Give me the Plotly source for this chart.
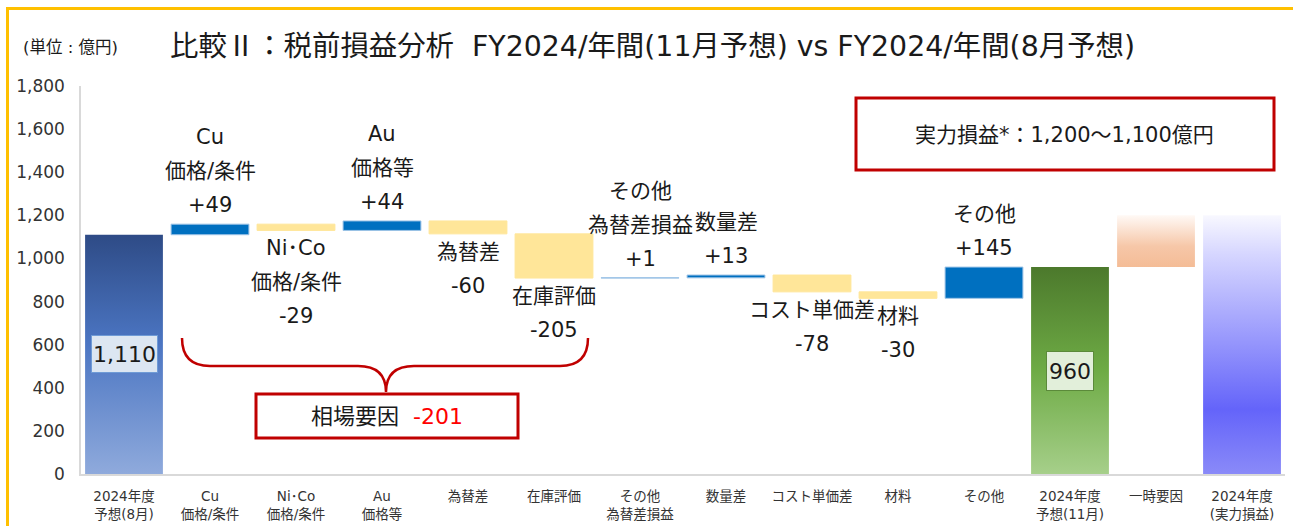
import plotly.graph_objects as go

# ---------------- data ----------------
categories = ["2024年度<br>予想(8月)", "Cu<br>価格/条件", "Ni･Co<br>価格/条件", "Au<br>価格等",
              "為替差", "在庫評価", "その他<br>為替差損益", "数量差", "コスト単価差", "材料",
              "その他", "2024年度<br>予想(11月)", "一時要因", "2024年度<br>(実力損益)"]
start_total = 1110          # 2024年度 予想(8月)
deltas = [49, -29, 44, -60, -205, 1, 13, -78, -30, 145]
end_total = 960             # 2024年度 予想(11月)
one_time = 240              # 一時要因
jitsuryoku = 1200           # 2024年度 (実力損益)
delta_names = [["Cu", "価格/条件"], ["Ni･Co", "価格/条件"], ["Au", "価格等"], ["為替差"],
               ["在庫評価"], ["その他", "為替差損益"], ["数量差"], ["コスト単価差"], ["材料"], ["その他"]]
market_factor = -201
y_ticks = [0, 200, 400, 600, 800, 1000, 1200, 1400, 1600, 1800]
title_text = ("比較<span style=\"font-family:Noto Sans CJK JP\">Ⅱ</span>"
              "：税前損益分析  FY2024/年間(11月予想) vs FY2024/年間(8月予想)")
unit_text = "(単位 : 億円)"
box_text = "実力損益*：1,200～1,100億円"
market_label = "相場要因"

# ---------------- style ----------------
FONT = "DejaVu Sans, Noto Sans CJK JP, sans-serif"
W = 0.905
L, R, T, B = 81, 8, 86, 52
FW, FH = 1293, 526
PW, PH = FW - L - R, FH - T - B
YMAX = 1800

def pxx(px):  # pixel -> paper x
    return (px - L) / PW

def pxy(py):  # pixel -> paper y
    return (FH - B - py) / PH

def dx(px):   # pixel -> data x
    return (px - L) / PW * len(categories) - 0.5

def dy(py):   # pixel -> data y
    return (FH - B - py) / PH * YMAX

fig = go.Figure()

# floating bars
bases, heights, colors, lcolors = [], [], [], []
running = start_total
for d in deltas:
    new = running + d
    bases.append(min(running, new))
    heights.append(abs(d))
    colors.append("#0070C0" if d > 0 else "#FFE699")
    lcolors.append("#9DC3E6" if d > 0 else "#FFE699")
    running = new
xs_float = list(range(1, 1 + len(deltas)))
fig.add_trace(go.Bar(x=xs_float, y=heights, base=bases, width=W,
                     marker=dict(color=colors, line=dict(color=lcolors, width=1)),
                     hoverinfo="skip", showlegend=False))

# gradient bars
def grad_bar(i, y0, y1, cs):
    x0, x1 = i - W / 2, i + W / 2
    fig.add_trace(go.Scatter(x=[x0, x1, x1, x0, x0], y=[y0, y0, y1, y1, y0],
                             fill="toself", mode="none",
                             fillgradient=dict(type="vertical", colorscale=cs, start=y0, stop=y1),
                             hoverinfo="skip", showlegend=False))

grad_bar(0, 0, start_total, [[0, "#8FAADC"], [0.55, "#4B75C2"], [1, "#2E4B86"]])
grad_bar(11, 0, end_total, [[0, "#A6CF8A"], [0.5, "#6EAB45"], [1, "#4C792C"]])
grad_bar(12, end_total, end_total + one_time, [[0, "#F4BC96"], [0.4, "#F6C7A8"], [1, "#FFF9F5"]])
grad_bar(13, 0, jitsuryoku, [[0, "#8A8AF8"], [0.25, "#6464FA"], [0.5, "#9494FC"],
                             [0.85, "#D6D6FF"], [1, "#F8F8FF"]])

TXT = "#1a1a1a"
ann = []
# value boxes on total bars
ann.append(dict(x=0, y=start_total / 2, text=f"{start_total:,}", showarrow=False,
                font=dict(family=FONT, size=22, color=TXT), width=63, height=34,
                bgcolor="#DCE6F2", bordercolor="#6F9BD6", borderwidth=1, borderpad=1))
ann.append(dict(x=11, y=end_total / 2, text=f"{end_total:,}", showarrow=False,
                font=dict(family=FONT, size=22, color=TXT), width=44, height=36,
                bgcolor="#E2EFDA", bordercolor="#5B8A3A", borderwidth=1, borderpad=1))

# labels around floating bars
running = start_total
for i, (d, names) in enumerate(zip(deltas, delta_names)):
    new = running + d
    lines = names + [f"{d:+d}"]
    if d > 0:
        for k, t in enumerate(reversed(lines)):
            ann.append(dict(x=i + 1, y=new, text=t, showarrow=False, yanchor="middle", xanchor="center",
                            yshift=19 + 34 * k, font=dict(family=FONT, size=21, color=TXT)))
    else:
        for k, t in enumerate(lines):
            ann.append(dict(x=i + 1, y=new, text=t, showarrow=False, yanchor="middle", xanchor="center",
                            yshift=-(18 + 34 * k), font=dict(family=FONT, size=21, color=TXT)))
    running = new

# title and unit
ann.append(dict(xref="paper", yref="paper", x=pxx(168), y=pxy(44), xanchor="left", yanchor="middle",
                text=title_text, showarrow=False, font=dict(family=FONT, size=28.4, color=TXT)))
ann.append(dict(xref="paper", yref="paper", x=pxx(21), y=pxy(48), xanchor="left", yanchor="middle",
                text=unit_text, showarrow=False, font=dict(family=FONT, size=16.5, color=TXT)))

# 実力損益 box
shapes = []
shapes.append(dict(type="rect", xref="paper", yref="paper", x0=pxx(856), x1=pxx(1274),
                   y0=pxy(170), y1=pxy(98), line=dict(color="#C00000", width=3), fillcolor="white"))
ann.append(dict(xref="paper", yref="paper", x=pxx(1064), y=pxy(135), xanchor="center", yanchor="middle",
                text=box_text, showarrow=False, font=dict(family=FONT, size=21, color=TXT)))

# brace
pts = (f"M {dx(182)},{dy(338)} Q {dx(182)},{dy(366)} {dx(210)},{dy(366)} "
       f"L {dx(358)},{dy(366)} Q {dx(386)},{dy(366)} {dx(386)},{dy(392)} "
       f"Q {dx(386)},{dy(366)} {dx(414)},{dy(366)} "
       f"L {dx(560)},{dy(366)} Q {dx(588)},{dy(366)} {dx(588)},{dy(338)}")
shapes.append(dict(type="path", xref="x", yref="y", path=pts, line=dict(color="#C00000", width=2.5)))

# 相場要因 box
shapes.append(dict(type="rect", xref="paper", yref="paper", x0=pxx(256), x1=pxx(518),
                   y0=pxy(438), y1=pxy(394), line=dict(color="#C00000", width=3), fillcolor="white"))
ann.append(dict(xref="paper", yref="paper", x=pxx(387), y=pxy(416), xanchor="center", yanchor="middle",
                showarrow=False,
                text=f"{market_label}  <span style='color:#FF0000'>{market_factor}</span>",
                font=dict(family=FONT, size=22, color=TXT)))

# yellow frame
shapes.append(dict(type="rect", xref="paper", yref="paper", x0=pxx(7.5), x1=pxx(1320),
                   y0=pxy(560), y1=pxy(8.5), line=dict(color="#FFC000", width=3)))

fig.update_layout(
    width=FW, height=FH, margin=dict(l=L, r=R, t=T, b=B, autoexpand=False),
    paper_bgcolor="white", plot_bgcolor="white",
    annotations=ann, shapes=shapes, showlegend=False,
    xaxis=dict(range=[-0.5, len(categories) - 0.5], tickvals=list(range(len(categories))),
               ticktext=categories, showgrid=False, zeroline=False, showline=True,
               linecolor="#D9D9D9", linewidth=1.5, ticks="outside", ticklen=9,
               tickcolor="rgba(0,0,0,0)", tickfont=dict(family=FONT, size=13.5, color="#333333"),
               fixedrange=True),
    yaxis=dict(range=[0, YMAX], tickvals=y_ticks, tickformat=",", showgrid=False, zeroline=False,
               showline=True, linecolor="#D9D9D9", linewidth=1.5, ticks="outside", ticklen=11,
               tickcolor="rgba(0,0,0,0)", tickfont=dict(family=FONT, size=17, color="#333333"),
               fixedrange=True),
)

fig.write_html("out.html", config={"displayModeBar": False},
               post_script="document.body.style.margin='0';document.body.style.overflow='hidden';")
